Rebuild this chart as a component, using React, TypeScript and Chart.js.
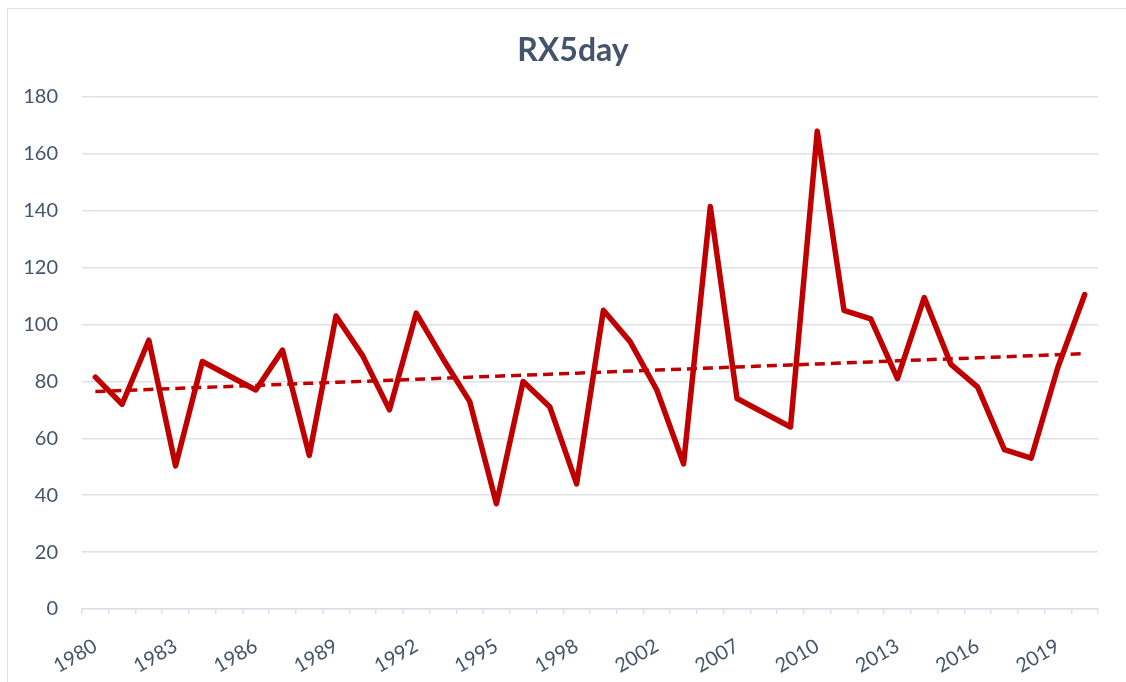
import React, { useEffect, useRef } from "react";
import { Chart, registerables } from "chart.js";

Chart.register(...registerables);

// Categories (years shown on the axis; some years are absent in the source)
const years: number[] = [
  1980, 1981, 1982, 1983, 1984, 1985, 1986, 1987, 1988, 1989,
  1990, 1991, 1992, 1993, 1994, 1995, 1996, 1997, 1998, 1999,
  2000, 2002, 2004, 2005, 2007, 2008, 2009, 2010, 2011, 2012,
  2013, 2014, 2015, 2016, 2017, 2018, 2019, 2020,
];

// RX5day values (mm)
const rx5day: number[] = [
  81.5, 72, 94.5, 50.3, 87, 82, 77, 91, 54, 103,
  89, 70, 104, 88, 73, 37, 80, 71, 44, 105,
  94, 77, 51, 141.5, 74, 69, 64, 168, 105, 102,
  81, 109.5, 86, 78, 56, 53, 85, 110.5,
];

const yMin = 0;
const yMax = 180;
const yStep = 20;
const labelEvery = 3;

const titleText = "RX5day";
const lineColor = "#c00000";
const textColor = "#44546a";
const gridColor = "#dde1e7";
const fontFamily = "Lato, 'Open Sans', sans-serif";

// Linear least-squares trend line (as a spreadsheet trendline does)
function linearTrend(values: number[]): number[] {
  const n = values.length;
  let sx = 0, sy = 0, sxy = 0, sxx = 0;
  values.forEach((v, i) => {
    sx += i; sy += v; sxy += i * v; sxx += i * i;
  });
  const slope = (n * sxy - sx * sy) / (n * sxx - sx * sx);
  const intercept = (sy - slope * sx) / n;
  return values.map((_, i) => intercept + slope * i);
}

export default function App() {
  const ref = useRef<HTMLCanvasElement | null>(null);

  useEffect(() => {
    if (!ref.current) return;
    const trend = linearTrend(rx5day);
    const chart = new Chart(ref.current, {
      type: "line",
      data: {
        labels: years.map(String),
        datasets: [
          {
            label: "RX5day",
            data: rx5day,
            borderColor: lineColor,
            backgroundColor: lineColor,
            borderWidth: 5.5,
            pointRadius: 0,
            tension: 0,
            borderJoinStyle: "round",
            borderCapStyle: "round",
            yAxisID: "y",
          },
          {
            label: "Linear (RX5day)",
            data: trend,
            borderColor: lineColor,
            backgroundColor: lineColor,
            borderWidth: 3.5,
            borderDash: [10, 6],
            pointRadius: 0,
            tension: 0,
            yAxisID: "y",
          },
        ],
      },
      options: {
        responsive: false,
        animation: false,
        layout: { padding: { left: 20, right: 0, top: 0, bottom: 0 } },
        plugins: {
          legend: { display: false },
          tooltip: { enabled: false },
          title: {
            display: true,
            text: titleText,
            color: textColor,
            font: { family: fontFamily, size: 32, weight: "bold" },
            padding: { top: 31, bottom: 27.6 },
          },
        },
        scales: {
          x: {
            offset: true,
            grid: {
              offset: true,
              drawOnChartArea: false,
              drawTicks: true,
              tickLength: 5,
              color: gridColor,
              lineWidth: 1.5,
            },
            border: { display: true, color: gridColor, width: 1.5 },
            ticks: {
              autoSkip: false,
              maxRotation: 30,
              minRotation: 30,
              padding: 20,
              color: textColor,
              font: { family: fontFamily, size: 20 },
              callback: (_v: any, i: number) => (i % labelEvery === 0 ? String(years[i]) : ""),
            },
            afterFit: (s: any) => {
              s.height = 73;
            },
          },
          y: {
            position: "left",
            min: yMin,
            max: yMax,
            ticks: {
              stepSize: yStep,
              padding: 24,
              color: textColor,
              font: { family: fontFamily, size: 20 },
            },
            grid: { drawTicks: false, color: gridColor, lineWidth: 1.5 },
            border: { display: false },
            afterFit: (s: any) => {
              s.width = 62;
            },
          },
          spacer: {
            type: "linear",
            position: "right",
            display: true,
            grid: { display: false, drawTicks: false },
            border: { display: false },
            ticks: { display: false },
            afterFit: (s: any) => {
              s.width = 28;
            },
          },
        },
      },
    } as any);
    return () => chart.destroy();
  }, []);

  return (
    <div style={{ position: "fixed", left: 0, top: 0, width: 1126, height: 682, background: "#fff" }}>
      <div
        style={{
          position: "absolute",
          left: 7,
          top: 8,
          width: 1119,
          height: 674,
          borderLeft: "1.5px solid #dde1e7",
          borderTop: "1.5px solid #dde1e7",
          boxSizing: "border-box",
        }}
      />
      <canvas
        ref={ref}
        width={1126}
        height={682}
        style={{ position: "absolute", left: 0, top: 0, width: 1126, height: 682 }}
      />
    </div>
  );
}
